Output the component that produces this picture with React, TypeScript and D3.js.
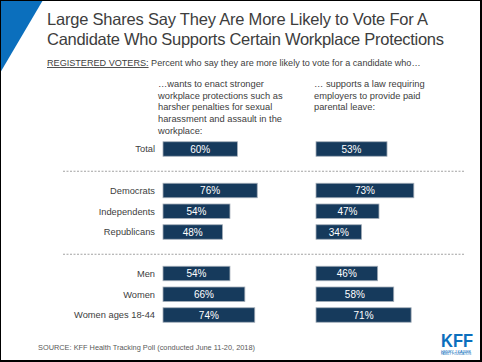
import React, { useRef, useEffect } from "react";
import * as d3 from "d3";

// rows, with spacer slots where the dashed separators go
const rows = ["Total", "sep1", "Democrats", "Independents", "Republicans", "sep2", "Men", "Women", "Women ages 18-44"];
const groups = ["Total", "Democrats", "Independents", "Republicans", "Men", "Women", "Women ages 18-44"];
const harassment = [60, 76, 54, 48, 54, 66, 74];
const paidLeave = [53, 73, 47, 34, 46, 58, 71];
const separators = ["sep1", "sep2"];

const titleLines = [
  "Large Shares Say They Are More Likely to Vote For A",
  "Candidate Who Supports Certain Workplace Protections",
];
const titleWidths = [381, 397];
const leftHeader = [
  "\u2026wants to enact stronger",
  "workplace protections such as",
  "harsher penalties for sexual",
  "harassment and assault in the",
  "workplace:",
];
const rightHeader = [
  "\u2026 supports a law requiring",
  "employers to provide paid",
  "parental leave:",
];

const W = 482;
const H = 362;
const FONT = "'Liberation Sans', Arial, sans-serif";
const BAR = "#163a5c";

const App: React.FC = () => {
  const svgRef = useRef<SVGSVGElement | null>(null);

  useEffect(() => {
    const svg = d3.select(svgRef.current);
    svg.selectAll("*").remove();

    svg.append("rect").attr("width", W).attr("height", H).attr("fill", "#fff");

    // blue corner triangle
    svg.append("path").attr("d", "M0,0L43,0L0,73Z").attr("fill", "#0b6fbd");

    // frame
    svg.append("rect").attr("x", 0.5).attr("y", 0.5).attr("width", W - 2).attr("height", H - 2)
      .attr("fill", "none").attr("stroke", "#000").attr("stroke-width", 1);
    svg.append("path").attr("d", `M${W - 1},0V${H - 1}H0`).attr("fill", "none").attr("stroke", "#000").attr("stroke-width", 2);

    // title
    titleLines.forEach((t, i) => {
      svg.append("text").attr("x", 47).attr("y", 25 + i * 19.5)
        .attr("font-family", FONT).attr("font-size", 16.5).attr("fill", "#3d3d3d")
        .attr("textLength", titleWidths[i]).attr("lengthAdjust", "spacing").text(t);
    });

    // subtitle
    const sub = svg.append("text").attr("x", 47).attr("y", 66).attr("font-family", FONT)
      .attr("font-size", 9.1).attr("fill", "#404040");
    sub.append("tspan").attr("text-decoration", "underline").text("REGISTERED VOTERS:");
    sub.append("tspan").text(" Percent who say they are more likely to vote for a candidate who\u2026");

    // column headers
    const header = (lines: string[], x: number) => {
      const t = svg.append("text").attr("font-family", FONT).attr("font-size", 9.3).attr("fill", "#404040");
      lines.forEach((l, i) => t.append("tspan").attr("x", x).attr("y", 87 + i * 11.7).text(l));
    };
    header(leftHeader, 158);
    header(rightHeader, 314);

    const y = d3.scalePoint<string>().domain(rows).range([149, 315]);
    const xL = d3.scaleLinear().domain([0, 100]).range([163, 287]);
    const xR = d3.scaleLinear().domain([0, 100]).range([316, 450]);
    const bh = 14.5;

    // dashed separators
    svg.selectAll("line.sep").data(separators).join("line")
      .attr("x1", 63).attr("x2", 464)
      .attr("y1", (d) => y(d)! + 1.5).attr("y2", (d) => y(d)! + 1.5)
      .attr("stroke", "#8c8c8c").attr("stroke-width", 0.8).attr("stroke-dasharray", "2,1.5");

    // row labels
    svg.selectAll("text.lab").data(groups).join("text")
      .attr("x", 155).attr("y", (d) => y(d)!).attr("dy", "0.35em")
      .attr("text-anchor", "end").attr("font-family", FONT).attr("font-size", 9.3)
      .attr("fill", "#404040").text((d) => d);

    const drawBars = (vals: number[], x: d3.ScaleLinear<number, number>) => {
      const g = svg.append("g");
      g.selectAll("rect").data(vals).join("rect")
        .attr("x", x(0)).attr("y", (_, i) => y(groups[i])! - bh / 2)
        .attr("width", (d) => x(d) - x(0)).attr("height", bh)
        .attr("fill", BAR).attr("stroke", "#a3adb8").attr("stroke-width", 0.8);
      g.selectAll("text").data(vals).join("text")
        .attr("x", (d) => (x(0) + x(d)) / 2).attr("y", (_, i) => y(groups[i])!).attr("dy", "0.36em")
        .attr("text-anchor", "middle").attr("font-family", FONT).attr("font-size", 10)
        .attr("fill", "#fff").text((d) => `${d}%`);
    };
    drawBars(harassment, xL);
    drawBars(paidLeave, xR);

    // source
    svg.append("text").attr("x", 38).attr("y", 350).attr("font-family", FONT).attr("font-size", 8)
      .attr("textLength", 217).attr("lengthAdjust", "spacingAndGlyphs")
      .attr("fill", "#595959").text("SOURCE: KFF Health Tracking Poll (conducted June 11-20, 2018)");

    // KFF logo
    svg.append("text").attr("x", 441).attr("y", 346.5).attr("font-family", FONT).attr("font-weight", "bold")
      .attr("font-size", 18).attr("textLength", 32).attr("lengthAdjust", "spacingAndGlyphs")
      .attr("fill", "#0b6fbd").text("KFF");
    ["HENRY J KAISER", "FAMILY FOUNDATION"].forEach((t, i) => {
      svg.append("text").attr("x", 441).attr("y", 352.6 + i * 2.8).attr("font-family", FONT)
        .attr("font-size", 2.6).attr("textLength", 30).attr("lengthAdjust", "spacingAndGlyphs")
        .attr("fill", "#0b6fbd").text(t);
    });
  }, []);

  return (
    <svg ref={svgRef} width={W} height={H} style={{ position: "absolute", left: 0, top: 0 }} />
  );
};

export default App;
